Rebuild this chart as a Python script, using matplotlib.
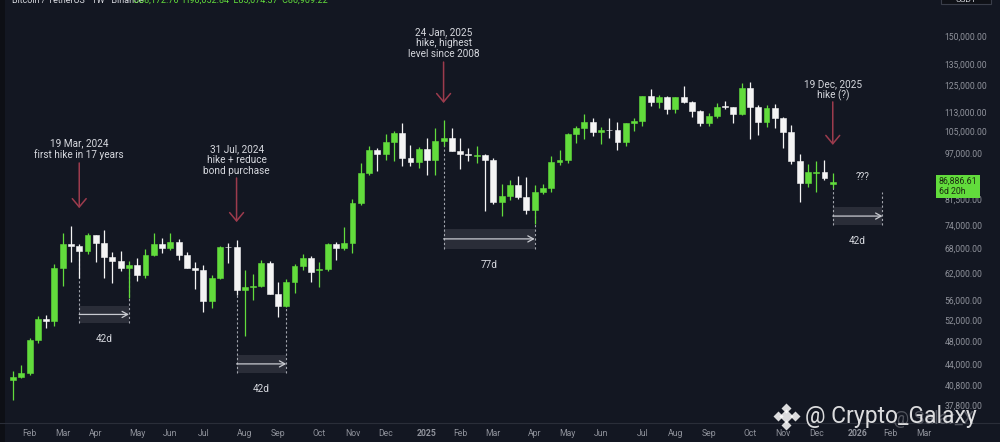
import numpy as np
import pandas as pd
import matplotlib
matplotlib.use("Agg")
import matplotlib.pyplot as plt
import matplotlib.dates as mdates
import matplotlib.transforms as mtransforms
from matplotlib.patches import Rectangle
from matplotlib.ticker import FixedLocator, NullLocator, FuncFormatter

plt.rcParams['font.family'] = ['Roboto', 'DejaVu Sans']

# weekly BTC/USDT candles (Binance, 1W), values in thousands of USDT
week_start = "2024-01-22"
opens = [41.6, 42.0, 42.6, 48.3, 52.1, 51.7, 63.1, 68.9, 68.4, 67.2,
         71.3, 69.4, 65.7, 64.9, 63.1, 63.9, 61.5, 66.3, 68.9, 68.0,
         69.6, 66.2, 63.2, 62.7, 55.9, 60.8, 68.3, 68.2, 58.1, 58.7,
         59.0, 64.2, 57.3, 54.8, 60.0, 63.6, 65.6, 62.6, 62.9, 69.0,
         68.0, 69.4, 80.4, 89.9, 98.0, 96.4, 101.1, 104.5, 95.2, 93.7,
         98.3, 94.5, 101.3, 102.6, 97.7, 96.5, 96.0, 96.2, 94.3, 80.7,
         82.6, 86.1, 82.4, 78.4, 83.7, 85.2, 93.7, 94.3, 104.2, 106.5,
         109.0, 105.0, 105.7, 105.6, 100.9, 108.4, 109.2, 119.8, 117.3, 119.4,
         114.2, 119.3, 117.4, 113.5, 108.3, 111.1, 115.3, 115.2, 112.2, 123.5,
         115.2, 108.7, 114.5, 110.5, 104.7, 94.2, 86.8, 89.9, 90.3, 86.3]
highs = [43.0, 43.9, 48.6, 52.8, 53.0, 64.0, 72.0, 73.8, 68.9, 71.8,
         71.3, 72.8, 66.9, 67.2, 64.7, 65.5, 67.7, 71.9, 70.6, 72.0,
         70.2, 67.0, 64.5, 63.9, 61.4, 68.4, 69.4, 70.0, 62.7, 61.8,
         65.0, 64.9, 59.8, 60.6, 64.1, 66.5, 66.0, 64.5, 69.4, 69.5,
         73.6, 81.5, 93.3, 99.6, 98.7, 104.0, 105.2, 108.3, 99.9, 99.0,
         102.7, 106.4, 109.6, 106.5, 102.5, 98.8, 99.5, 96.5, 95.0, 86.2,
         87.5, 88.8, 88.5, 86.1, 86.5, 95.8, 97.9, 104.4, 107.1, 112.0,
         110.4, 106.8, 110.5, 108.9, 108.5, 110.5, 120.0, 123.2, 120.2, 119.8,
         119.5, 124.5, 117.6, 113.6, 112.6, 116.7, 117.9, 115.3, 125.7, 126.2,
         115.9, 116.0, 116.4, 110.8, 107.5, 96.6, 93.1, 94.2, 94.6, 89.9]
lows = [38.5, 41.8, 42.3, 47.7, 50.5, 50.9, 59.0, 64.5, 60.8, 66.4,
        64.5, 60.7, 59.6, 62.4, 56.5, 60.2, 60.7, 66.1, 66.7, 67.6,
        65.1, 63.0, 58.4, 53.5, 54.3, 60.6, 64.2, 57.1, 49.0, 56.1,
        58.8, 57.2, 52.6, 54.6, 57.5, 62.7, 59.8, 58.9, 62.4, 65.1,
        67.5, 66.8, 79.7, 89.4, 90.8, 94.6, 94.2, 92.2, 92.5, 91.5,
        89.3, 89.2, 99.5, 97.6, 91.2, 94.1, 93.4, 78.2, 80.0, 76.6,
        81.2, 81.6, 77.2, 74.5, 83.1, 83.9, 92.8, 93.4, 100.7, 102.0,
        103.1, 100.4, 102.7, 98.2, 99.6, 105.1, 107.4, 115.7, 114.7, 112.0,
        112.6, 116.8, 110.7, 107.3, 107.3, 110.6, 114.4, 108.6, 111.5, 102.0,
        103.5, 106.7, 106.3, 98.9, 93.0, 80.6, 85.3, 83.8, 87.6, 85.1]
closes = [42.0, 42.6, 48.3, 52.1, 51.7, 63.1, 68.9, 68.4, 67.2, 71.3,
          69.4, 65.7, 64.9, 63.1, 63.9, 61.5, 66.3, 68.9, 68.0, 69.6,
          66.2, 63.2, 62.7, 55.9, 60.8, 68.2, 68.2, 58.1, 58.7, 59.0,
          64.2, 57.3, 54.8, 60.0, 63.6, 65.6, 62.1, 62.9, 69.0, 68.0,
          69.4, 80.4, 89.9, 98.0, 96.4, 101.1, 104.5, 95.2, 93.7, 98.3,
          94.5, 101.3, 102.6, 97.7, 96.5, 96.3, 96.2, 94.3, 80.7, 82.6,
          86.1, 82.4, 78.4, 83.7, 85.2, 93.7, 94.3, 104.2, 106.5, 109.0,
          105.0, 105.7, 105.6, 100.9, 108.4, 109.2, 119.8, 117.3, 119.4, 114.2,
          119.3, 117.4, 113.5, 108.3, 111.1, 115.3, 115.2, 112.2, 123.5, 115.2,
          108.7, 114.5, 110.5, 104.7, 94.2, 86.8, 90.4, 90.3, 88.2, 86.88661]
last_price = 86886.61
countdown = "6d 20h"

price_ticks = [150000, 135000, 125000, 113000, 105000, 97000, 81500, 74000,
               68000, 62000, 56000, 52000, 48000, 44000, 40800, 37800]

# (week index, text, text price, arrow from, arrow to) in USDT
events = [
    (8, "19 Mar, 2024\nfirst hike in 17 years", 98300, 93400, 78900),
    (27, "31 Jul, 2024\nhike + reduce\nbond purchase", 94400, 88300, 74900),
    (52, "24 Jan, 2025\nhike, highest\nlevel since 2008", 146000, 136100, 116800),
    (99, "19 Dec, 2025\nhike (?)", 122700, 117300, 99900),
]
# (start week, end week, box low, box high, label)
ranges = [
    (8, 14, 51400, 54800, "42d"),
    (27, 33, 42700, 45600, "42d"),
    (52, 63, 67800, 73000, "77d"),
    (99, 105, 74100, 79200, "42d"),
]

BG = "#131722"
GREEN = "#62dc3c"
WHITE = "#f4f4f4"
TXT = "#d6d8de"
AXT = "#8f929b"

o = np.array(opens) * 1000
h = np.array(highs) * 1000
l = np.array(lows) * 1000
c = np.array(closes) * 1000
all_weeks = pd.date_range(week_start, periods=120, freq="7D")
xw = mdates.date2num(all_weeks)
x = xw[:len(o)]

fig = plt.figure(figsize=(10, 4.42), dpi=100, facecolor=BG)
ax = fig.add_axes([0.005, 19 / 442, 0.925, 423 / 442], facecolor=BG)
ax.set_yscale("log")

up = c >= o
cols = np.where(up, GREEN, WHITE)
ax.vlines(x, l, h, colors=cols, lw=0.9, zorder=2)
bottoms = np.minimum(o, c)
heights = np.maximum(np.abs(c - o), bottoms * 0.002)
ax.bar(x, heights, bottom=bottoms, width=5.0, color=cols, edgecolor=cols,
       linewidth=0.4, zorder=3)

ax.set_xlim(x[0] - 6.76, x[0] + 775.2)
ax.set_ylim(35394, 171566)

# month ticks at the first weekly candle of each month
tick_x, tick_lab = [], []
for m in pd.period_range("2024-02", "2026-03", freq="M"):
    first = all_weeks[all_weeks >= m.start_time][0]
    tick_x.append(mdates.date2num(first))
    tick_lab.append(str(m.year) if m.month == 1 else m.strftime("%b"))
ax.xaxis.set_major_locator(FixedLocator(tick_x))
ax.set_xticklabels(tick_lab)
for t in ax.get_xticklabels():
    if t.get_text().isdigit():
        t.set_color(TXT)
        t.set_fontweight("bold")
    else:
        t.set_color(AXT)

ax.yaxis.tick_right()
ax.yaxis.set_major_locator(FixedLocator(price_ticks))
ax.yaxis.set_minor_locator(NullLocator())
ax.yaxis.set_major_formatter(FuncFormatter(lambda v, p: f"{v:,.2f}"))
ax.tick_params(axis="both", length=0, labelsize=6.2, colors=AXT)
ax.tick_params(axis="y", pad=10.5)
ax.tick_params(axis="x", pad=4)
for s in ax.spines.values():
    s.set_visible(False)

# event arrows and notes
for i, text, ty, a0, a1 in events:
    ax.text(xw[i], ty, text, ha="center", va="center", fontsize=7.2,
            color=TXT, linespacing=1.08, zorder=5)
    ax.annotate("", xy=(xw[i], a1), xytext=(xw[i], a0),
                arrowprops=dict(arrowstyle="->,head_length=0.6,head_width=0.5",
                                color="#9c3b4d", lw=1.1, shrinkA=0, shrinkB=0),
                zorder=5)

# date range boxes
for i0, i1, lo, hi, lab in ranges:
    x0, x1 = xw[i0], xw[i1]
    ax.add_patch(Rectangle((x0, lo), x1 - x0, hi - lo, facecolor="#2c2f3a",
                           edgecolor="none", alpha=0.95, zorder=1))
    for k in (i0, i1):
        top = bottoms[k] if k < len(o) else hi * 1.06
        ax.vlines(xw[k], lo, top, colors="#a3a6ae", lw=0.8,
                  linestyles=(0, (2, 2)), zorder=1.5)
    mid = np.sqrt(lo * hi)
    ax.annotate("", xy=(x1, mid), xytext=(x0, mid),
                arrowprops=dict(arrowstyle="->,head_length=0.4,head_width=0.22",
                                color="#c9cbd1", lw=0.9, shrinkA=0, shrinkB=0),
                zorder=4)
    ax.text((x0 + x1) / 2, lo * 0.942, lab, ha="center", va="center",
            fontsize=7.2, color=TXT, zorder=5)

ax.text(xw[99] + 25, 88600, "???", ha="center", va="center", fontsize=7.2,
        color=TXT, zorder=5)

# last price label on the price scale
blend = mtransforms.blended_transform_factory(ax.transAxes, ax.transData)
ax.text(1.0095, last_price * np.exp(-4 / 268), f"{last_price:,.2f}\n{countdown}",
        transform=blend, ha="left", va="center", fontsize=6.3, color="#1b2a12",
        linespacing=1.05, clip_on=False,
        bbox=dict(boxstyle="square,pad=0.3", fc=GREEN, ec="none"))

# overlay in pixel units for header / watermark
ov = fig.add_axes([0, 0, 1, 1], facecolor="none")
ov.set_xlim(0, 1000)
ov.set_ylim(442, 0)
ov.axis("off")
ov.add_patch(Rectangle((0, 0), 5, 442, facecolor="#0d0f15", edgecolor="none"))
ov.plot([0, 1000], [423, 423], color="#2a2e39", lw=0.8)
ov.text(12, 0.5, "Bitcoin / TetherUS · 1W · Binance", fontsize=6.5, color=TXT,
        ha="left", va="center")
ov.text(133, 0.5, "O88,172.76  H90,052.84  L85,074.37  C86,909.22", fontsize=6.5,
        color=GREEN, ha="left", va="center")
ov.add_patch(Rectangle((941, -6), 50, 10, facecolor="#0f1117",
                       edgecolor="#3a3e4a", lw=0.8))
ov.text(966, 0.5, "USDT", fontsize=6, color=TXT, ha="center", va="center")

# watermark
ov.text(893, 419, "@ Salar_X", fontsize=13, color="#9a9ca3", alpha=0.45,
        ha="left", va="center")
cx, cy = 786, 416
for dx, dy, s in [(0, 0, 7), (-8.5, 0, 5), (8.5, 0, 5), (0, -8.5, 5), (0, 8.5, 5)]:
    ov.plot(cx + dx, cy + dy, marker="D", ms=s, color="white", alpha=0.85,
            mec="none")
ov.text(805, 417, "@ Crypto_Galaxy", fontsize=16.5, color="white", alpha=0.85,
        ha="left", va="center")

fig.savefig("out.png", dpi=100, facecolor=BG)
